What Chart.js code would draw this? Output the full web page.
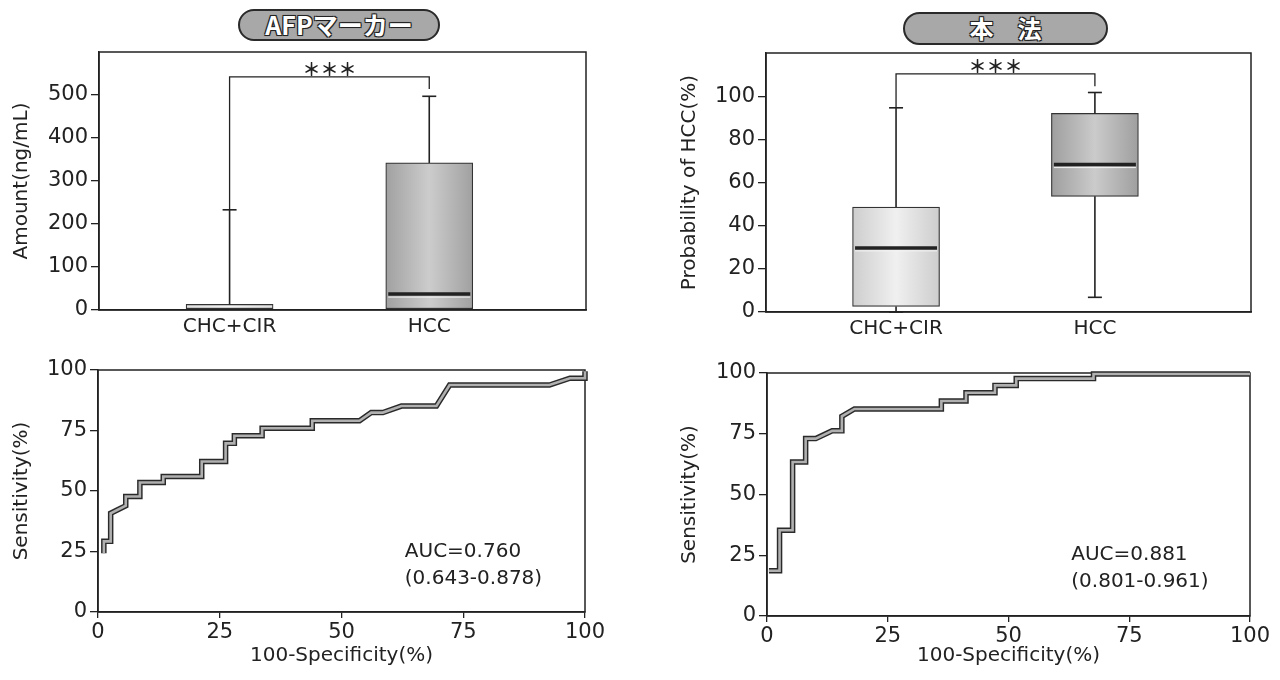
<!DOCTYPE html>
<html>
<head>
<meta charset="utf-8">
<script src="https://cdn.jsdelivr.net/npm/chart.js@4.4.1/dist/chart.umd.min.js"></script>
<style>
  body { margin: 0; width: 1280px; height: 680px; background: #fff; position: relative; overflow: hidden; }
  canvas { position: absolute; }
  .pill {
    position: absolute; box-sizing: border-box; border: 2px solid #2a2a2a; border-radius: 17px;
    background: #a8a8a8; color: #fff; text-align: center; font-family: "Noto Sans CJK JP", sans-serif;
    font-weight: bold;
    text-shadow: -1px -1px 0 #222, 1px -1px 0 #222, -1px 1px 0 #222, 1px 1px 0 #222, 0 0 2px #222;
  }
</style>
</head>
<body>
<div class="pill" style="left:238px;top:9px;width:202px;height:32px;line-height:27px;font-size:25px">AFPマーカー</div>
<div class="pill" style="left:903px;top:12px;width:205px;height:33px;line-height:28px;font-size:24px">本　法</div>
<canvas id="afp-roc" width="640" height="340" style="left:0;top:340px"></canvas>
<canvas id="method-roc" width="640" height="340" style="left:640px;top:340px"></canvas>
<canvas id="afp-box" width="640" height="350" style="left:0;top:0"></canvas>
<canvas id="method-box" width="640" height="350" style="left:640px;top:0"></canvas>
<script>
const groups = ["CHC+CIR", "HCC"];
const significance = "＊＊＊";

// AFP marker, Amount (ng/mL)
const afpMin = [3, 3];
const afpQ1 = [3, 3];
const afpMedian = [null, 37];
const afpQ3 = [13, 342];
const afpMax = [233, 497];
const afpTicks = [0, 100, 200, 300, 400, 500];

// this method, Probability of HCC (%)
const probMin = [0, 6.8];
const probQ1 = [2.6, 53.6];
const probMedian = [29.7, 68.3];
const probQ3 = [48.6, 92];
const probMax = [94.6, 101.7];
const probTicks = [0, 20, 40, 60, 80, 100];

// ROC curves, 100-Specificity (%) vs Sensitivity (%)
const rocTicks = [0, 25, 50, 75, 100];
const afpRocFpr = [1.2, 1.2, 2.6, 2.6, 5.7, 5.7, 8.6, 8.6, 13.4, 13.4, 21.3, 21.3, 26.2, 26.2, 28, 28,
  33.7, 33.7, 44, 44, 53.7, 56.1, 58.5, 62.3, 69.5, 72.2, 92.7, 96.9, 100, 100];
const afpRocTpr = [24.3, 29.2, 29.2, 40.8, 43.9, 47.7, 47.7, 53.5, 53.5, 56, 56, 62.2, 62.2, 69.7, 69.7, 72.8,
  72.8, 75.9, 75.9, 79, 79, 82.4, 82.4, 85.1, 85.1, 93.8, 93.8, 96.6, 96.6, 99.5];
const afpAuc = ["AUC=0.760", "(0.643-0.878)"];

const methodRocFpr = [0.4, 2.6, 2.6, 5.3, 5.3, 8, 8, 10.1, 13.5, 15.5, 15.5, 18.1, 36.1, 36.1, 41.2, 41.2,
  47.2, 47.2, 51.6, 51.6, 67.6, 67.6, 100];
const methodRocTpr = [18.6, 18.6, 35.3, 35.3, 63.4, 63.4, 73, 73, 76.2, 76.2, 82.2, 85.2, 85.2, 88.5, 88.5, 91.9,
  91.9, 94.9, 94.9, 97.7, 97.7, 99.6, 99.6];
const methodAuc = ["AUC=0.881", "(0.801-0.961)"];

const FONT = "'DejaVu Sans', sans-serif";
const INK = "#222";

const frame = {
  id: "frame",
  beforeDatasetsDraw(chart) {
    const { ctx, chartArea: a } = chart;
    ctx.save();
    ctx.strokeStyle = INK;
    ctx.lineWidth = 1.5;
    ctx.strokeRect(a.left, a.top, a.right - a.left, a.bottom - a.top);
    ctx.restore();
  },
};

function seg(ctx, x1, y1, x2, y2) {
  ctx.beginPath();
  ctx.moveTo(x1, y1);
  ctx.lineTo(x2, y2);
  ctx.stroke();
}

const boxDetails = {
  id: "boxDetails",
  afterDatasetsDraw(chart, args, opts) {
    if (!opts.max) return;
    const { ctx } = chart;
    const x = chart.scales.x, y = chart.scales.y;
    ctx.save();
    ctx.strokeStyle = INK;
    ctx.lineWidth = 1.6;
    opts.max.forEach((top, i) => {
      const cx = x.getPixelForValue(i + 1);
      seg(ctx, cx, y.getPixelForValue(opts.q3[i]), cx, y.getPixelForValue(top));
      seg(ctx, cx - 7, y.getPixelForValue(top), cx + 7, y.getPixelForValue(top));
      if (opts.min[i] < opts.q1[i]) {
        seg(ctx, cx, y.getPixelForValue(opts.q1[i]), cx, y.getPixelForValue(opts.min[i]));
        seg(ctx, cx - 7, y.getPixelForValue(opts.min[i]), cx + 7, y.getPixelForValue(opts.min[i]));
      }
      if (opts.median[i] != null) {
        const my = y.getPixelForValue(opts.median[i]);
        ctx.lineWidth = 3.5;
        seg(ctx, cx - opts.half + 2, my, cx + opts.half - 2, my);
        ctx.strokeStyle = "#f4f4f4";
        ctx.lineWidth = 1;
        seg(ctx, cx - opts.half + 2, my + 3, cx + opts.half - 2, my + 3);
        ctx.strokeStyle = INK;
        ctx.lineWidth = 1.6;
      }
    });
    // significance bracket
    const b = opts.bracket;
    const x1 = x.getPixelForValue(1), x2 = x.getPixelForValue(2);
    const by = y.getPixelForValue(b.y);
    ctx.lineWidth = 1.3;
    ctx.beginPath();
    ctx.moveTo(x1, y.getPixelForValue(opts.max[0]));
    ctx.lineTo(x1, by);
    ctx.lineTo(x2, by);
    ctx.lineTo(x2, y.getPixelForValue(b.end));
    ctx.stroke();
    ctx.fillStyle = INK;
    ctx.font = "bold 18px 'Noto Sans CJK JP'";
    ctx.textAlign = "center";
    ctx.textBaseline = "bottom";
    ctx.fillText(b.label, (x1 + x2) / 2, by + 1);
    ctx.restore();
  },
};

const aucLabel = {
  id: "aucLabel",
  afterDraw(chart, args, opts) {
    if (!opts.lines) return;
    const { ctx } = chart;
    const px = chart.scales.x.getPixelForValue(opts.x);
    const py = chart.scales.y.getPixelForValue(opts.y);
    ctx.save();
    ctx.fillStyle = INK;
    ctx.font = "20px " + FONT;
    ctx.textAlign = "left";
    ctx.textBaseline = "middle";
    opts.lines.forEach((t, i) => ctx.fillText(t, px, py + i * 27));
    ctx.restore();
  },
};

function boxFill(c, shade) {
  const xs = c.chart.scales.x;
  const cx = xs && c.parsed ? xs.getPixelForValue(c.parsed.x) : NaN;
  if (!Number.isFinite(cx)) return shade[1];
  const g = c.chart.ctx.createLinearGradient(cx - 44, 0, cx + 44, 0);
  g.addColorStop(0, shade[0]);
  g.addColorStop(0.5, shade[1]);
  g.addColorStop(1, shade[0]);
  return g;
}

function fixedSize(prop, size) {
  return (scale) => { scale[prop] = size; };
}

function tickList(list) {
  return (scale) => { scale.ticks = list.map((v) => ({ value: v })); };
}

function yAxis(max, ticks, title, width, titlePad) {
  return {
    type: "linear", min: 0, max: max,
    afterBuildTicks: tickList(ticks),
    afterFit: fixedSize("width", width),
    grid: { drawOnChartArea: false, tickLength: 8, color: INK, lineWidth: 1.3 },
    border: { color: INK, width: 1.5 },
    ticks: { color: INK, padding: 3, font: { family: FONT, size: 21 } },
    title: { display: true, text: title, color: INK, padding: { top: titlePad, bottom: 0 }, font: { family: FONT, size: 20 } },
  };
}

function boxChart(id, q1, med, q3, mn, mx, yMax, ticks, yTitle, shades, bracket, pad, yWidth, xHeight, titlePad) {
  new Chart(document.getElementById(id), {
    type: "bar",
    data: {
      datasets: [{
        data: groups.map((g, i) => ({ x: i + 1, y: [q1[i], q3[i]] })),
        backgroundColor: (c) => boxFill(c, shades[c.dataIndex] || shades[0]),
        borderColor: "#333",
        borderWidth: 1.2,
        borderSkipped: false,
        barThickness: 87,
      }],
    },
    options: {
      responsive: false, animation: false, devicePixelRatio: 1,
      layout: { padding: pad },
      scales: {
        x: {
          type: "linear", min: 0.346, max: 2.785, offset: false,
          afterBuildTicks: tickList(groups.map((g, i) => i + 1)),
          afterFit: fixedSize("height", xHeight),
          grid: { display: false, drawTicks: false, offset: false },
          border: { color: INK, width: 1.5 },
          ticks: { color: INK, padding: 5, font: { family: FONT, size: 20 }, callback: (v) => groups[v - 1] },
        },
        y: yAxis(yMax, ticks, yTitle, yWidth, titlePad),
      },
      plugins: {
        legend: { display: false }, tooltip: { enabled: false },
        boxDetails: { q1: q1, median: med, q3: q3, min: mn, max: mx, half: 43, bracket: bracket },
      },
    },
    plugins: [frame, boxDetails],
  });
}

function rocChart(id, fpr, tpr, auc, pad, yWidth, xHeight, titlePad) {
  const pts = fpr.map((v, i) => ({ x: v, y: tpr[i] }));
  new Chart(document.getElementById(id), {
    type: "line",
    data: {
      datasets: [
        { data: pts, order: 2, borderColor: "#2a2a2a", borderWidth: 5.5, pointRadius: 0, tension: 0, clip: false, borderJoinStyle: "miter" },
        { data: pts, order: 1, borderColor: "#b0b0b0", borderWidth: 2.6, pointRadius: 0, tension: 0, clip: false, borderJoinStyle: "miter" },
      ],
    },
    options: {
      responsive: false, animation: false, devicePixelRatio: 1,
      layout: { padding: pad },
      scales: {
        x: {
          type: "linear", min: 0, max: 100,
          afterBuildTicks: tickList(rocTicks),
          afterFit: fixedSize("height", xHeight),
          grid: { drawOnChartArea: false, tickLength: 6, color: INK, lineWidth: 1.3 },
          border: { color: INK, width: 1.5 },
          ticks: { color: INK, padding: 2, maxRotation: 0, font: { family: FONT, size: 21 } },
          title: { display: true, text: "100-Specificity(%)", color: INK, padding: { top: 0, bottom: 12 }, font: { family: FONT, size: 20 } },
        },
        y: yAxis(100, rocTicks, "Sensitivity(%)", yWidth, titlePad),
      },
      plugins: {
        legend: { display: false }, tooltip: { enabled: false },
        aucLabel: { lines: auc, x: 63, y: 25 },
      },
    },
    plugins: [frame, aucLabel],
  });
}

boxChart("afp-box", afpQ1, afpMedian, afpQ3, afpMin, afpMax, 600, afpTicks, "Amount(ng/mL)",
  [["#e0e0e0", "#f4f4f4"], ["#a0a0a0", "#cccccc"]], { y: 542, end: 514, label: significance },
  { top: 52, right: 54, left: 0, bottom: 0 }, 99, 40, 10);

boxChart("method-box", probQ1, probMedian, probQ3, probMin, probMax, 120, probTicks, "Probability of HCC(%)",
  [["#cdcdcd", "#f0f0f0"], ["#9e9e9e", "#cbcbcb"]], { y: 110.3, end: 104.6, label: significance },
  { top: 53, right: 29, left: 0, bottom: 0 }, 126, 38, 38);

rocChart("afp-roc", afpRocFpr, afpRocTpr, afpAuc, { top: 30, right: 55, left: 0, bottom: 0 }, 98, 68, 10);
rocChart("method-roc", methodRocFpr, methodRocTpr, methodAuc, { top: 33, right: 30, left: 0, bottom: 0 }, 127, 64, 38);
</script>
</body>
</html>
